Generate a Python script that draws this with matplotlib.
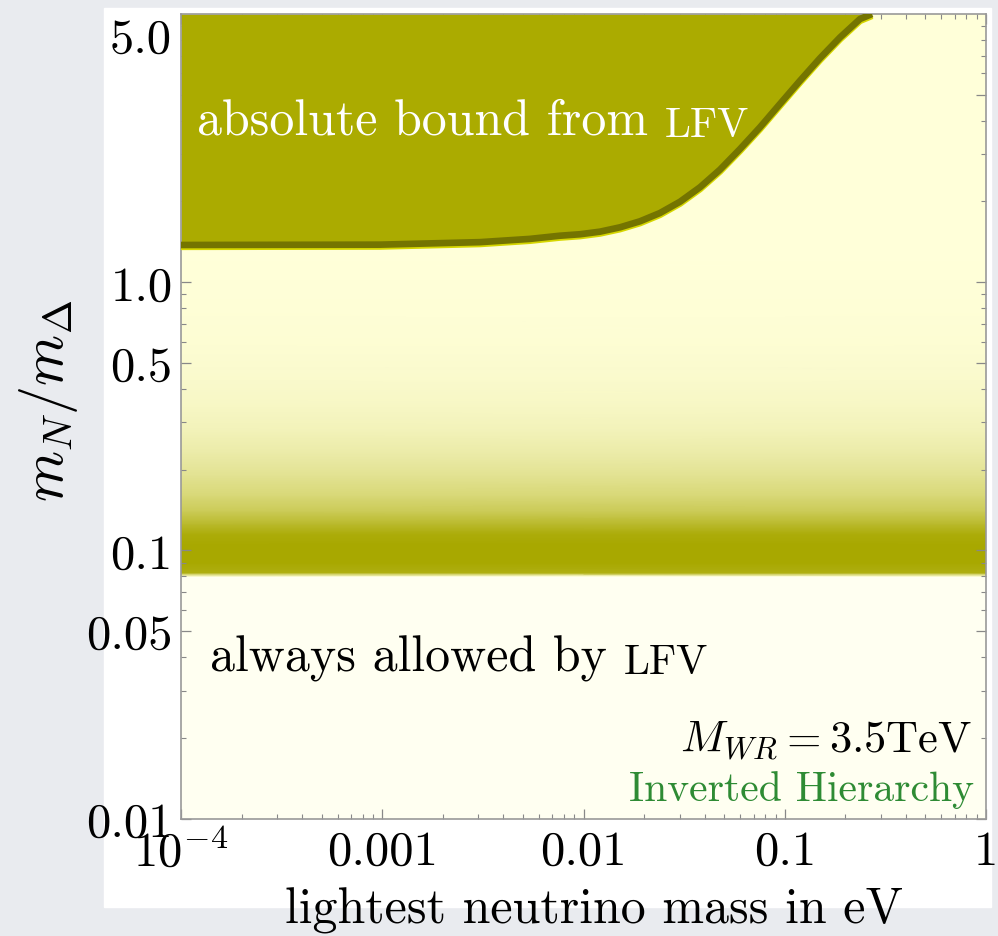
import matplotlib
matplotlib.use("Agg")
import matplotlib.pyplot as plt
import matplotlib.patheffects as pe
from matplotlib.colors import LinearSegmentedColormap
from matplotlib.patches import Rectangle
import numpy as np

plt.rcParams['font.family'] = ['cmr10', 'DejaVu Serif']
plt.rcParams['mathtext.fontset'] = 'cm'
plt.rcParams['axes.formatter.use_mathtext'] = True

# LFV bound (upper edge of allowed region)
bound_x = [1e-4, 9.75e-4, 3.06e-3, 5.42e-3, 7.63e-3, 9.62e-3, 0.01208, 0.01521,
           0.0191, 0.02399, 0.0302, 0.03793, 0.04764, 0.05998, 0.07534, 0.09462,
           0.1191, 0.1496, 0.1884, 0.2366, 0.2715]
bound_y = [1.376, 1.38, 1.41, 1.45, 1.49, 1.509, 1.543, 1.602,
           1.687, 1.811, 1.996, 2.259, 2.627, 3.138, 3.781, 4.617,
           5.641, 6.837, 8.186, 9.58, 10.0]

# density of the scatter points vs m_N/m_Delta (0 = none, 1 = solid)
band_y = [0.080, 0.0825, 0.090, 0.105, 0.115, 0.125, 0.14, 0.16, 0.19,
          0.23, 0.28, 0.35, 0.45, 0.6, 0.8, 1.1, 1.3]
band_density = [0.0, 0.92, 1.0, 1.0, 0.95, 0.8, 0.6, 0.45, 0.33,
                0.23, 0.15, 0.09, 0.055, 0.03, 0.015, 0.005, 0.0]

x_min, x_max = 1e-4, 1.0
y_min, y_max = 0.01, 10.0

xtick_vals = [1e-4, 1e-3, 1e-2, 1e-1, 1]
xtick_labels = [r'$10^{-4}$', '0.001', '0.01', '0.1', '1']
ytick_vals = [0.01, 0.05, 0.1, 0.5, 1.0, 5.0]
ytick_labels = ['0.01', '0.05', '0.1', '0.5', '1.0', '']

olive = '#abab00'
dark_olive = '#747400'

fig = plt.figure(figsize=(9.98, 9.37), dpi=100, facecolor='#e9ebef')
panel = Rectangle((104 / 998, 1 - 908 / 937), 887 / 998, 899 / 937,
                  transform=fig.transFigure, color='white', zorder=-10)
fig.add_artist(panel)

ax = fig.add_axes([181 / 998, 1 - 819.5 / 937, 805 / 998, 804.5 / 937])
ax.set_zorder(1)
ax.set_xscale('log')
ax.set_yscale('log')
ax.set_xlim(x_min, x_max)
ax.set_ylim(y_min, y_max)
ax.set_facecolor('#ffffd9')

# lower "always allowed" region is lighter
ax.fill_between([x_min, x_max], y_min, band_y[0], color='#fffff1', lw=0, zorder=0.5)

# scatter density band
cmap = LinearSegmentedColormap.from_list('band', ['#ffffd9', '#a8a800'])
X, Y = np.meshgrid([x_min, x_max], band_y)
C = np.repeat(np.array(band_density)[:, None], 2, axis=1)
ax.pcolormesh(X, Y, C, cmap=cmap, vmin=0, vmax=1, shading='gouraud', zorder=1)

# excluded region above the bound
ax.fill_between(bound_x, bound_y, y_max, color=olive, lw=0, zorder=2)
ax.plot(bound_x, bound_y, color=dark_olive, lw=4.8, solid_capstyle='butt',
        solid_joinstyle='round', zorder=3,
        path_effects=[pe.SimpleLineShadow(offset=(0, -1.3), shadow_color='#d6d600', alpha=1),
                      pe.Normal()])

ax.set_xticks(xtick_vals)
ax.set_xticklabels(xtick_labels, fontsize=35)
ax.set_yticks(ytick_vals)
ax.set_yticklabels(ytick_labels, fontsize=35)
ax.tick_params(which='both', direction='in', top=True, right=True, color='#888888')
ax.tick_params(which='major', length=7, width=0.9, pad=6)
ax.tick_params(which='minor', length=3.5, width=0.8)
ax.tick_params(axis='x', which='major', pad=8)
for s in ax.spines.values():
    s.set_color('#999999')
    s.set_linewidth(1.2)

ax.text(-0.012, 8.0, '5.0', transform=ax.get_yaxis_transform(), ha='right', va='center',
        fontsize=35)

ax.set_xlabel('lightest neutrino mass in eV', fontsize=36)
ax.xaxis.set_label_coords(0.513, -0.085)
ax.set_ylabel(r'$m_N/m_\Delta$', fontsize=42)
ax.yaxis.set_label_coords(-0.125, 0.52)

t1 = ax.text(0.02, 0.867, 'absolute bound from ', transform=ax.transAxes, color='white',
             fontsize=36, va='center', zorder=5)
ax.annotate('LFV', xy=(1, 0), xycoords=t1, va='bottom', ha='left', color='white',
            fontsize=30, zorder=5)
t2 = ax.text(0.036, 0.2, 'always allowed by ', transform=ax.transAxes, color='black',
             fontsize=36, va='center', zorder=5)
ax.annotate('LFV', xy=(1, 0), xycoords=t2, va='bottom', ha='left', color='black',
            fontsize=30, zorder=5)

ax.text(0.983, 0.098, r'$M_{WR} = 3.5\mathrm{TeV}$', transform=ax.transAxes,
        ha='right', va='center', fontsize=32, zorder=5)
ax.text(0.985, 0.037, 'Inverted Hierarchy', transform=ax.transAxes, ha='right',
        va='center', fontsize=30, color='#2e8b34', zorder=5)

fig.savefig('out.png', dpi=100, facecolor=fig.get_facecolor())
